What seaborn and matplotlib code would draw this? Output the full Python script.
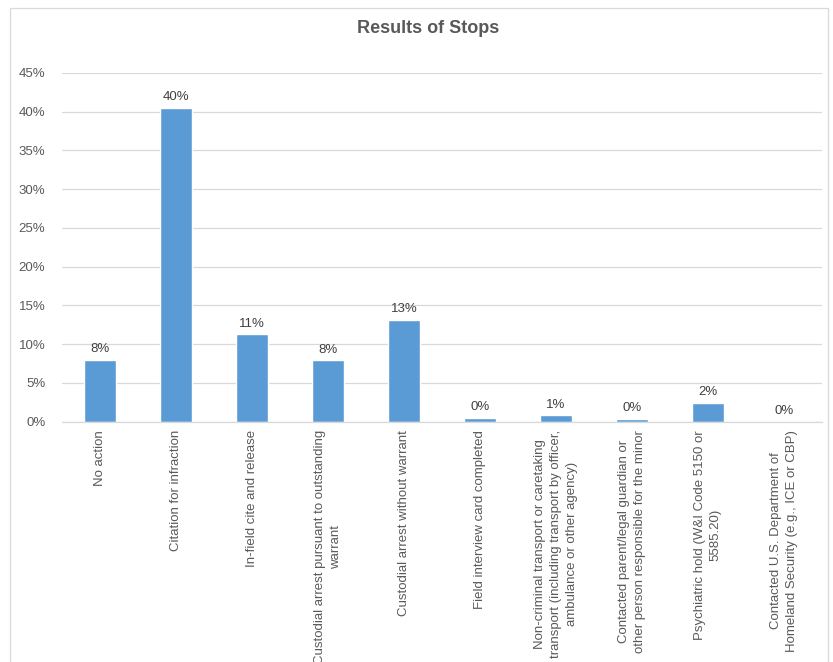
import numpy as np
import pandas as pd
import matplotlib
matplotlib.use("Agg")
import matplotlib.pyplot as plt
import seaborn as sns
from matplotlib.patches import Rectangle
from matplotlib.ticker import PercentFormatter

categories = [
    "No action",
    "Citation for infraction",
    "In-field cite and release",
    "Custodial arrest pursuant to outstanding\nwarrant",
    "Custodial arrest without warrant",
    "Field interview card completed",
    "Non-criminal transport or caretaking\ntransport (including transport by officer,\nambulance or other agency)",
    "Contacted parent/legal guardian or\nother person responsible for the minor",
    "Psychiatric hold (W&I Code 5150 or\n5585.20)",
    "Contacted U.S. Department of\nHomeland Security (e.g., ICE or CBP)",
]
values = [7.95, 40.5, 11.25, 7.9, 13.1, 0.48, 0.82, 0.4, 2.4, 0.02]
value_labels = ["8%", "40%", "11%", "8%", "13%", "0%", "1%", "0%", "2%", "0%"]

df = pd.DataFrame({"Result": categories, "Percent": values})

sns.set_theme(style="white")
plt.rcParams["font.family"] = ["Liberation Sans", "DejaVu Sans"]

txt = "#595959"
fig = plt.figure(figsize=(8.33, 6.62), dpi=100)
ax = fig.add_axes([0.0744, 0.363, 0.9124, 0.527])

sns.barplot(data=df, x="Result", y="Percent", color="#5B9BD5", width=0.42,
            saturation=1, ax=ax)

ax.set_ylim(0, 45)
ax.set_xlim(-0.5, len(categories) - 0.5)
ax.set_yticks(np.arange(0, 46, 5))
ax.yaxis.set_major_formatter(PercentFormatter(decimals=0))
ax.grid(axis="y", color="#D9D9D9", linewidth=0.9)
ax.set_axisbelow(True)
for s in ["top", "right", "left"]:
    ax.spines[s].set_visible(False)
ax.spines["bottom"].set_color("#D9D9D9")
ax.spines["bottom"].set_linewidth(0.9)

ax.set_xlabel("")
ax.set_ylabel("")
ax.tick_params(axis="y", length=0, pad=12, labelsize=9.5, labelcolor=txt)
ax.tick_params(axis="x", which="major", length=0, pad=6, labelsize=9.5, labelcolor=txt)
ax.set_xticks(np.arange(-0.5, len(categories), 1), minor=True)
ax.tick_params(axis="x", which="minor", length=5, color="#D9D9D9", width=0.9)
ax.set_xticks(range(len(categories)))
ax.set_xticklabels(categories, rotation=90, ha="center", va="top",
                   multialignment="center", linespacing=1.4)

for i, (v, lab) in enumerate(zip(values, value_labels)):
    ax.text(i, v + 0.6, lab, ha="center", va="bottom", fontsize=9.5, color="#404040")

fig.text(0.514, 0.957, "Results of Stops", ha="center", va="center",
         fontsize=13, fontweight="bold", color=txt)

fig.patches.append(Rectangle((0.012, -0.01), 0.982, 0.998, transform=fig.transFigure,
                             fill=False, edgecolor="#D9D9D9", linewidth=0.9))

fig.savefig("out.png", dpi=100)
